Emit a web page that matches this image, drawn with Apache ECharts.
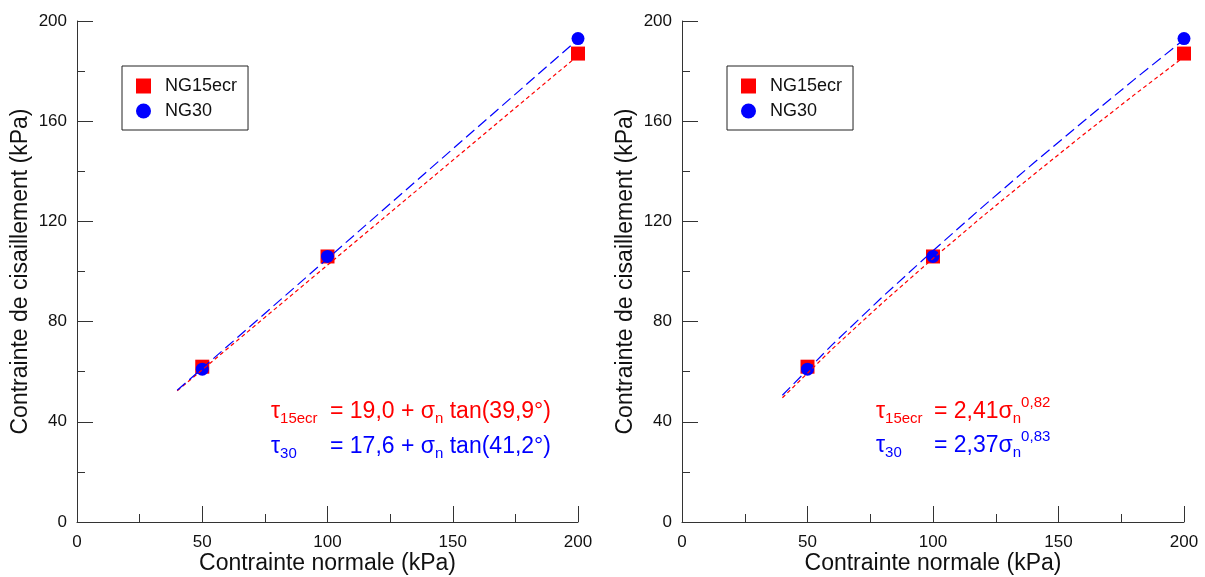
<!DOCTYPE html>
<html>
<head>
<meta charset="utf-8">
<script src="https://cdn.jsdelivr.net/npm/echarts@6/dist/echarts.min.js"></script>
<style>html,body{margin:0;padding:0;background:#fff}#c{width:1205px;height:577px}</style>
</head>
<body>
<div id="c"></div>
<script>
// Data points
var ng15ecr = [[50, 62], [100, 106], [200, 187]];
var ng30 = [[50, 61], [100, 106], [200, 193]];
// Linear fits (left panel)
var fitLin15 = [[40, 52.4], [200, 186.2]];
var fitLin30 = [[40, 52.6], [200, 192.7]];
// Power fits (right panel)
var fitPowX = [40, 60, 80, 100, 120, 140, 160, 180, 200];
var fitPow15Y = [49.6, 69.2, 87.6, 105.2, 122.2, 138.6, 154.7, 170.4, 185.7];
var fitPow30Y = [50.6, 70.9, 90.0, 108.3, 126.0, 143.2, 160.0, 176.5, 192.6];
var seriesNames = ['NG15ecr', 'NG30'];
var xTicks = [0, 50, 100, 150, 200];
var yTicks = [0, 40, 80, 120, 160, 200];
var xName = 'Contrainte normale (kPa)';
var yName = 'Contrainte de cisaillement (kPa)';

var FONT = 'Liberation Sans, Arial, sans-serif';
var RED = '#ff0000', BLUE = '#0000ff';

function zip(xs, ys) { return xs.map(function (x, i) { return [x, ys[i]]; }); }

function xAxis(gi) {
  return {
    gridIndex: gi, type: 'value', min: xTicks[0], max: xTicks[xTicks.length - 1], interval: 50,
    name: xName, nameLocation: 'middle', nameGap: 30, nameMoveOverlap: false,
    nameTextStyle: { fontFamily: FONT, fontSize: 23, color: '#111' },
    axisLine: { lineStyle: { color: '#333', width: 1 } },
    axisTick: { inside: true, length: 16, lineStyle: { color: '#333' } },
    minorTick: { show: true, splitNumber: 2, length: 8, lineStyle: { color: '#333' } },
    axisLabel: { fontFamily: FONT, fontSize: 17, color: '#111', margin: 12 },
    splitLine: { show: false }
  };
}
function yAxis(gi) {
  return {
    gridIndex: gi, type: 'value', min: yTicks[0], max: yTicks[yTicks.length - 1], interval: 40,
    name: yName, nameLocation: 'middle', nameGap: 45, nameMoveOverlap: false,
    nameTextStyle: { fontFamily: FONT, fontSize: 23, color: '#111' },
    axisLine: { show: true, lineStyle: { color: '#333', width: 1 } },
    axisTick: { show: true, inside: true, length: 16, lineStyle: { color: '#333' } },
    minorTick: { show: true, splitNumber: 2, length: 8, lineStyle: { color: '#333' } },
    axisLabel: { fontFamily: FONT, fontSize: 17, color: '#111', margin: 10 },
    splitLine: { show: false }
  };
}
function panelSeries(gi, fit15, fit30) {
  return [
    { type: 'scatter', name: seriesNames[0], xAxisIndex: gi, yAxisIndex: gi, data: ng15ecr,
      symbol: 'rect', symbolSize: 14, itemStyle: { color: RED, opacity: 1 }, z: 2 },
    { type: 'scatter', name: seriesNames[1], xAxisIndex: gi, yAxisIndex: gi, data: ng30,
      symbol: 'circle', symbolSize: 13, itemStyle: { color: BLUE, opacity: 1 }, z: 3 },
    { type: 'line', name: 'fit15', xAxisIndex: gi, yAxisIndex: gi, data: fit15, showSymbol: false,
      symbol: 'none', lineStyle: { color: RED, width: 1.2, type: [4, 3] }, z: 4, silent: true },
    { type: 'line', name: 'fit30', xAxisIndex: gi, yAxisIndex: gi, data: fit30, showSymbol: false,
      symbol: 'none', lineStyle: { color: BLUE, width: 1.2, type: [11, 5] }, z: 4, silent: true }
  ];
}
function legend(left) {
  return {
    data: seriesNames, orient: 'vertical', left: left, top: 66,
    borderColor: '#222', borderWidth: 1, borderRadius: 0,
    padding: [11, 11, 10, 14], itemGap: 7, itemWidth: 15, itemHeight: 15,
    textStyle: { fontFamily: FONT, fontSize: 18, color: '#111', padding: [0, 0, 0, 9] },
    selectedMode: false
  };
}
var rich = function (color) {
  return {
    m: { fontFamily: FONT, fontSize: 23, color: color, lineHeight: 34 },
    sub: { fontFamily: FONT, fontSize: 15, color: color, padding: [14, 0, 0, 0], lineHeight: 18 },
    sup: { fontFamily: FONT, fontSize: 15, color: color, padding: [0, 0, 18, 0], lineHeight: 18 }
  };
};
function txt(x, y, text, color) {
  return { type: 'text', x: x, y: y, z: 10,
    style: { text: text, rich: rich(color), verticalAlign: 'middle', align: 'left', fill: color } };
}

var option = {
  backgroundColor: '#fff',
  animation: false,
  grid: [
    { left: 77, right: 627, top: 21, bottom: 55, containLabel: false, outerBoundsMode: 'none' },
    { left: 682, right: 21, top: 21, bottom: 55, containLabel: false, outerBoundsMode: 'none' }
  ],
  xAxis: [xAxis(0), xAxis(1)],
  yAxis: [yAxis(0), yAxis(1)],
  legend: [legend(122), legend(727)],
  series: panelSeries(0, fitLin15, fitLin30).concat(panelSeries(1, zip(fitPowX, fitPow15Y), zip(fitPowX, fitPow30Y))),
  graphic: [
    txt(271, 412, '{m|τ}{sub|15ecr}', RED),
    txt(330, 412, '{m|= 19,0 + σ}{sub|n}{m| tan(39,9°)}', RED),
    txt(271, 447, '{m|τ}{sub|30}', BLUE),
    txt(330, 447, '{m|= 17,6 + σ}{sub|n}{m| tan(41,2°)}', BLUE),
    txt(876, 412, '{m|τ}{sub|15ecr}', RED),
    txt(934, 412, '{m|= 2,41σ}{sub|n}{sup|0,82}', RED),
    txt(876, 446, '{m|τ}{sub|30}', BLUE),
    txt(934, 446, '{m|= 2,37σ}{sub|n}{sup|0,83}', BLUE)
  ]
};
var chart = echarts.init(document.getElementById('c'), null, { renderer: 'canvas' });
chart.setOption(option);
</script>
</body>
</html>
